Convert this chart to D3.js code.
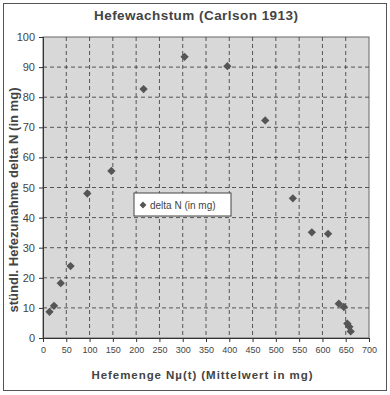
<!DOCTYPE html>
<html><head><meta charset="utf-8">
<script src="https://cdn.jsdelivr.net/npm/d3@7"></script>
<style>html,body{margin:0;padding:0;background:#fff}</style>
</head><body>
<svg id="c" width="390" height="395"></svg>
<script>
const title = "Hefewachstum (Carlson 1913)";
const xTitle = "Hefemenge Nµ(t) (Mittelwert in mg)";
const yTitle = "stündl. Hefezunahme delta N (in mg)";
const seriesName = "delta N (in mg)";
const xValues = [13.95, 23.65, 38.1, 59.15, 95.1, 146.85, 215.95, 304.0, 395.85, 477.15, 536.5, 577.25, 612.1, 635.1, 645.95, 653.5, 657.75, 660.7];
const yValues = [8.7, 10.7, 18.2, 23.9, 48.0, 55.5, 82.7, 93.4, 90.3, 72.3, 46.4, 35.1, 34.6, 11.4, 10.3, 4.8, 3.7, 2.2];
const xTicks = [0,50,100,150,200,250,300,350,400,450,500,550,600,650,700];
const yTicks = [0,10,20,30,40,50,60,70,80,90,100];

const svg = d3.select("#c");
const L = 43, R = 369, T = 37, B = 338;
const x = d3.scaleLinear().domain([0,700]).range([L,R]);
const y = d3.scaleLinear().domain([0,100]).range([B,T]);
const font = "Arial, 'Liberation Sans', sans-serif";

svg.append("rect").attr("x",3.5).attr("y",3.5).attr("width",383).attr("height",387)
  .attr("fill","#fff").attr("stroke","#555").attr("stroke-width",1);

svg.append("rect").attr("x",L).attr("y",T).attr("width",R-L).attr("height",B-T)
  .attr("fill","#d8d8d8").attr("stroke","#666").attr("stroke-width",1);

// grid
svg.append("g").selectAll("line").data(yTicks.filter(d=>d>0&&d<100)).join("line")
  .attr("x1",L).attr("x2",R).attr("y1",d=>y(d)).attr("y2",d=>y(d))
  .attr("stroke","#333").attr("stroke-dasharray","4,3").attr("stroke-width",0.8);
svg.append("g").selectAll("line").data(xTicks.filter(d=>d>0&&d<700)).join("line")
  .attr("y1",T).attr("y2",B).attr("x1",d=>x(d)).attr("x2",d=>x(d))
  .attr("stroke","#333").attr("stroke-dasharray","4,3").attr("stroke-width",0.8);

// axes
const gx = svg.append("g").attr("transform",`translate(0,${B})`)
  .call(d3.axisBottom(x).tickValues(xTicks).tickSize(4).tickPadding(5));
const gy = svg.append("g").attr("transform",`translate(${L},0)`)
  .call(d3.axisLeft(y).tickValues(yTicks).tickSize(4).tickPadding(4));
[gx,gy].forEach(g=>{
  g.select(".domain").attr("stroke","#333");
  g.selectAll(".tick line").attr("stroke","#333");
  g.selectAll("text").attr("font-family",font).attr("fill","#444");
});
gx.selectAll("text").attr("font-size",9);
gy.selectAll("text").attr("font-size",11);

// points
svg.append("g").selectAll("path").data(xValues.map((v,i)=>[v,yValues[i]])).join("path")
  .attr("d",d3.symbol(d3.symbolDiamond2,44))
  .attr("transform",d=>`translate(${x(d[0])},${y(d[1])})`)
  .attr("fill","#555");

// titles
svg.append("text").attr("x",196).attr("y",20).attr("text-anchor","middle")
  .attr("font-family",font).attr("font-weight","bold").attr("font-size",13.5).attr("fill","#444")
  .attr("textLength",204).attr("lengthAdjust","spacing").text(title);
svg.append("text").attr("x",202).attr("y",379).attr("text-anchor","middle")
  .attr("font-family",font).attr("font-weight","bold").attr("font-size",11.5).attr("fill","#444")
  .attr("textLength",221).attr("lengthAdjust","spacing").text(xTitle);
svg.append("text").attr("transform","translate(18,200) rotate(-90)").attr("text-anchor","middle")
  .attr("font-family",font).attr("font-weight","bold").attr("font-size",12).attr("fill","#444")
  .attr("textLength",225).attr("lengthAdjust","spacingAndGlyphs").text(yTitle);

// legend
const lg = svg.append("g");
lg.append("rect").attr("x",134).attr("y",193).attr("width",97).attr("height",23)
  .attr("fill","#fff").attr("stroke","#444").attr("stroke-width",1);
lg.append("path").attr("d",d3.symbol(d3.symbolDiamond2,30)).attr("transform","translate(143,205)").attr("fill","#555");
lg.append("text").attr("x",150).attr("y",209).attr("font-family",font).attr("font-size",10).attr("fill","#444").text(seriesName);
</script>
</body></html>
